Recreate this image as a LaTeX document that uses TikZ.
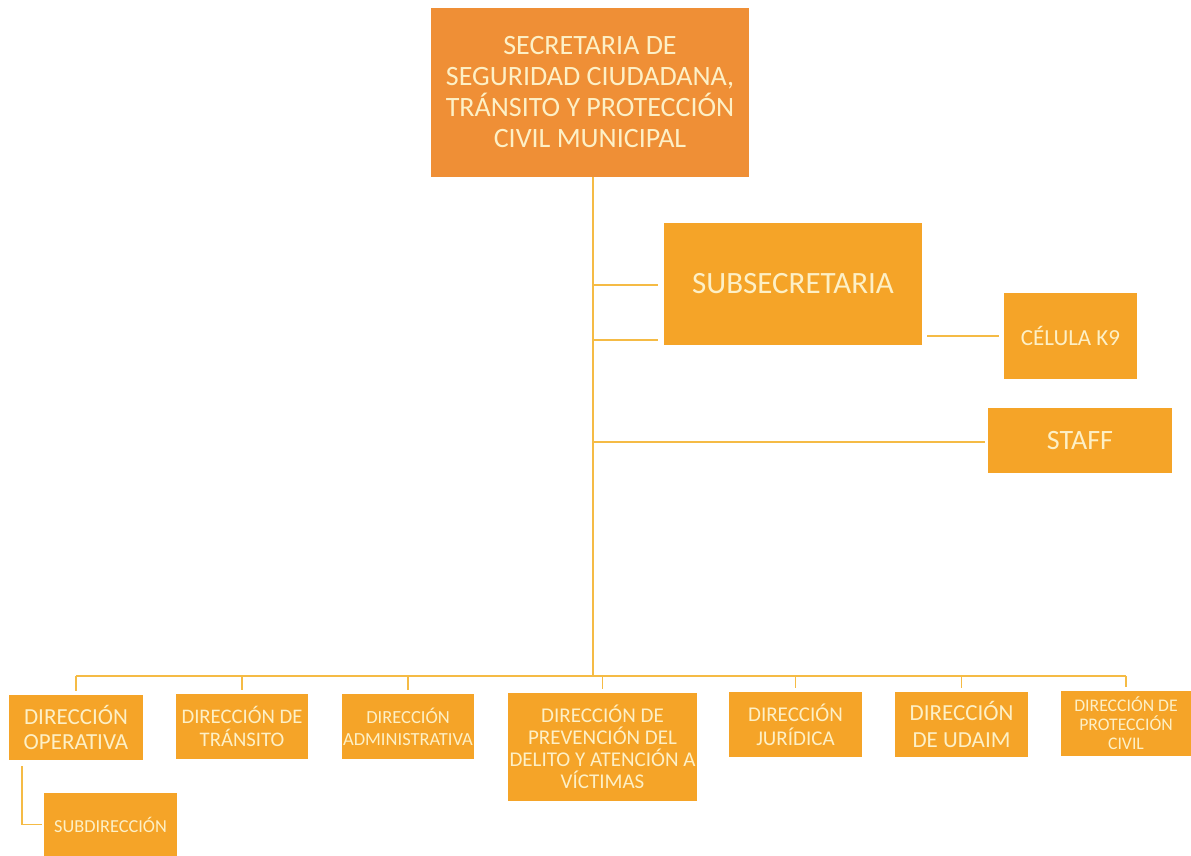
\documentclass[tikz,border=0pt]{standalone}
\usepackage{fontspec}
\setmainfont{Carlito}
\definecolor{topfill}{HTML}{EF8F36}
\definecolor{boxfill}{HTML}{F5A428}
\definecolor{txt}{HTML}{FDF0C6}
\definecolor{linecol}{HTML}{F5BB45}
\tikzset{
  box/.style={fill=boxfill, draw=none, text=txt, align=center, inner sep=0pt, anchor=center},
  topbox/.style={box, fill=topfill},
  conn/.style={draw=linecol, line width=1.8pt},
  fs/.style 2 args={font=\fontsize{#1}{#2}\selectfont}
}
\begin{document}
\begin{tikzpicture}[x=1pt, y=-1pt]
\useasboundingbox (0,0) rectangle (1191,856);
\fill[white] (0,0) rectangle (1191,856);
% boxes
\node[topbox, minimum width=318, minimum height=169, fs={28}{31}] (top) at (590,92.5)
  {SECRETARIA DE\\SEGURIDAD CIUDADANA,\\TRÁNSITO Y PROTECCIÓN\\CIVIL MUNICIPAL};
\node[box, minimum width=258, minimum height=122, fs={31}{36}] (subsec) at (793,284) {SUBSECRETARIA};
\node[box, minimum width=133, minimum height=86, fs={23}{26}] (k9) at (1070.5,336) {CÉLULA K9};
\node[box, minimum width=184, minimum height=65, fs={28}{30}] (staff) at (1080,440.5) {STAFF};
\node[box, minimum width=134, minimum height=65, fs={23}{25}] (op) at (76,727.5) {DIRECCIÓN\\OPERATIVA};
\node[box, minimum width=132, minimum height=65, fs={20.7}{23}] (tran) at (242,726.5) {DIRECCIÓN DE\\TRÁNSITO};
\node[box, minimum width=132, minimum height=65, fs={18.5}{22}] (adm) at (408,726.5) {DIRECCIÓN\\ADMINISTRATIVA};
\node[box, minimum width=189, minimum height=108, fs={21}{22}] (prev) at (602.5,747)
  {DIRECCIÓN DE\\PREVENCIÓN DEL\\DELITO Y ATENCIÓN A\\VÍCTIMAS};
\node[box, minimum width=133, minimum height=65, fs={21}{24}] (jur) at (795.5,724.5) {DIRECCIÓN\\JURÍDICA};
\node[box, minimum width=133, minimum height=65, fs={23}{27}] (udaim) at (961.5,724.5) {DIRECCIÓN\\DE UDAIM};
\node[box, minimum width=130, minimum height=65, fs={17.7}{19}] (prot) at (1126,723.5) {DIRECCIÓN DE\\PROTECCIÓN\\CIVIL};
\node[box, minimum width=133, minimum height=63, fs={18.3}{20}] (subdir) at (110.5,824.5) {SUBDIRECCIÓN};
% coordinates
\coordinate (trunk) at (593,676);
\coordinate (bus) at (0,676);
% connectors
\draw[conn] (top.south -| trunk) -- (trunk);
\draw[conn] (trunk |- 0,285) -- ([xshift=-6]subsec.west |- 0,285);
\draw[conn] (trunk |- 0,340) -- ([xshift=-6]subsec.west |- 0,340);
\draw[conn] ([xshift=5]subsec.east |- k9.west) -- ([xshift=-5]k9.west);
\draw[conn] (trunk |- 0,442) -- ([xshift=-3]staff.west |- 0,442);
\draw[conn] (op.north |- bus) -- (prot.north |- bus);
\foreach \n in {op,tran,adm,prev,jur,udaim,prot}{
  \draw[conn] (\n.north |- bus) -- ([yshift=4]\n.north);
}
\draw[conn] ([yshift=-6]op.south -| 22,0) |- ([xshift=-2]subdir.west);
\end{tikzpicture}
\end{document}
